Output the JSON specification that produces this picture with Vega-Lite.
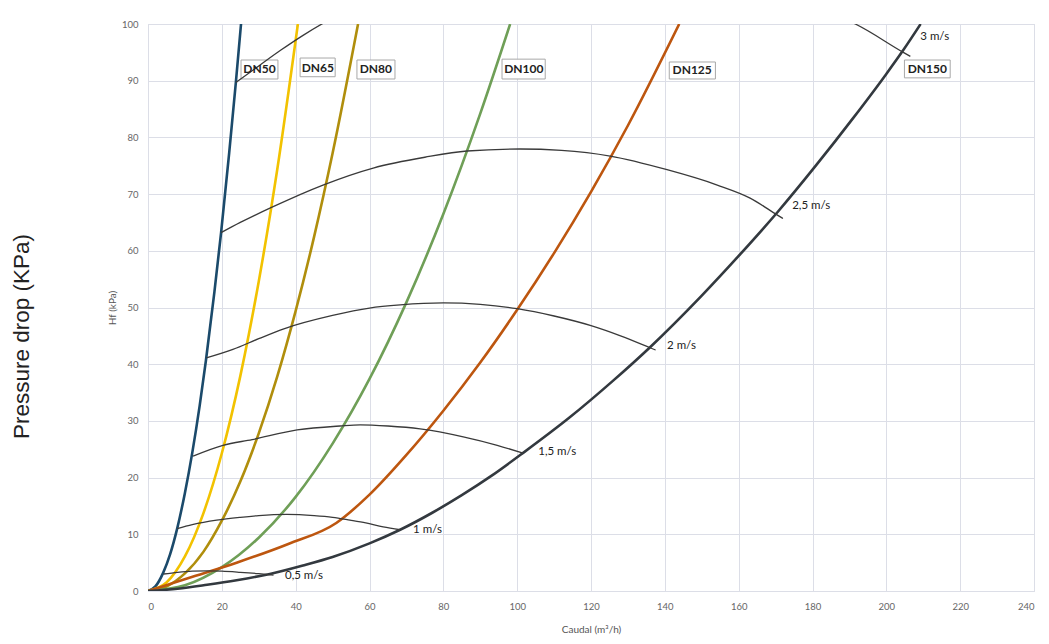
{
  "$schema": "https://vega.github.io/schema/vega-lite/v6.json",
  "width": 886,
  "height": 567,
  "autosize": "none",
  "padding": {"left": 148, "top": 24, "right": 15, "bottom": 53},
  "background": "white",
  "title": {"text": "Pressure drop (KPa)", "orient": "left", "anchor": "middle", "font": "Liberation Sans", "fontSize": 22.5, "fontWeight": "normal", "color": "#222222", "offset": 74, "dx": -29},
  "config": {
    "view": {"stroke": "#d4d6de", "strokeWidth": 1},
    "axis": {"domain": false, "ticks": false, "grid": true, "gridColor": "#dcdee7", "gridWidth": 1, "labelColor": "#666666", "labelFont": "Lato", "labelFontSize": 9.5, "titleFont": "Lato", "titleFontWeight": "normal", "titleColor": "#555555", "titleFontSize": 10},
    "axisX": {"tickCount": 12, "labelPadding": 10, "titlePadding": 14},
    "axisY": {"tickCount": 10, "labelPadding": 10, "titlePadding": 4}
  },
  "datasets": {
    "pipes": [
      {"p": "DN50", "q": 0, "h": 0}, {"p": "DN50", "q": 2, "h": 0.8}, {"p": "DN50", "q": 4.1, "h": 3.2}, {"p": "DN50", "q": 6, "h": 6.5}, {"p": "DN50", "q": 7.9, "h": 11.0}, {"p": "DN50", "q": 10, "h": 17.3}, {"p": "DN50", "q": 12, "h": 24.4}, {"p": "DN50", "q": 14, "h": 32.7}, {"p": "DN50", "q": 15.7, "h": 40.7}, {"p": "DN50", "q": 18, "h": 52.8}, {"p": "DN50", "q": 19.8, "h": 63.2}, {"p": "DN50", "q": 22, "h": 77.3}, {"p": "DN50", "q": 23.8, "h": 89.7}, {"p": "DN50", "q": 25.2, "h": 100},
      {"p": "DN65", "q": 0, "h": 0}, {"p": "DN65", "q": 5, "h": 1.5}, {"p": "DN65", "q": 10, "h": 6.1}, {"p": "DN65", "q": 15, "h": 13.7}, {"p": "DN65", "q": 20, "h": 24.3}, {"p": "DN65", "q": 25, "h": 37.9}, {"p": "DN65", "q": 30, "h": 54.6}, {"p": "DN65", "q": 35, "h": 74.3}, {"p": "DN65", "q": 40.6, "h": 100},
      {"p": "DN80", "q": 0, "h": 0}, {"p": "DN80", "q": 5, "h": 0.8}, {"p": "DN80", "q": 10, "h": 3.1}, {"p": "DN80", "q": 15, "h": 6.9}, {"p": "DN80", "q": 20, "h": 12.4}, {"p": "DN80", "q": 25, "h": 19.3}, {"p": "DN80", "q": 30, "h": 27.8}, {"p": "DN80", "q": 35, "h": 37.8}, {"p": "DN80", "q": 40, "h": 49.4}, {"p": "DN80", "q": 45, "h": 62.5}, {"p": "DN80", "q": 50, "h": 77.2}, {"p": "DN80", "q": 56.9, "h": 100},
      {"p": "DN100", "q": 0, "h": 0}, {"p": "DN100", "q": 10, "h": 1.0}, {"p": "DN100", "q": 20, "h": 4.2}, {"p": "DN100", "q": 30, "h": 9.4}, {"p": "DN100", "q": 40, "h": 16.6}, {"p": "DN100", "q": 50, "h": 26.0}, {"p": "DN100", "q": 60, "h": 37.4}, {"p": "DN100", "q": 70, "h": 50.9}, {"p": "DN100", "q": 80, "h": 66.5}, {"p": "DN100", "q": 90, "h": 84.2}, {"p": "DN100", "q": 98.1, "h": 100},
      {"p": "DN125", "q": 0, "h": 0}, {"p": "DN125", "q": 11, "h": 2.3}, {"p": "DN125", "q": 24, "h": 5.0}, {"p": "DN125", "q": 38, "h": 8.3}, {"p": "DN125", "q": 51, "h": 12.0}, {"p": "DN125", "q": 60, "h": 17.0}, {"p": "DN125", "q": 70, "h": 24.0}, {"p": "DN125", "q": 80, "h": 31.8}, {"p": "DN125", "q": 90, "h": 40.3}, {"p": "DN125", "q": 100, "h": 49.6}, {"p": "DN125", "q": 110, "h": 59.6}, {"p": "DN125", "q": 120, "h": 70.4}, {"p": "DN125", "q": 130, "h": 82.1}, {"p": "DN125", "q": 143.9, "h": 100},
      {"p": "DN150", "q": 0, "h": 0}, {"p": "DN150", "q": 8, "h": 0.4}, {"p": "DN150", "q": 16, "h": 1.1}, {"p": "DN150", "q": 24, "h": 1.9}, {"p": "DN150", "q": 33, "h": 3.0}, {"p": "DN150", "q": 42, "h": 4.5}, {"p": "DN150", "q": 50, "h": 6.0}, {"p": "DN150", "q": 60, "h": 8.4}, {"p": "DN150", "q": 68.3, "h": 10.8}, {"p": "DN150", "q": 77, "h": 13.8}, {"p": "DN150", "q": 85, "h": 16.9}, {"p": "DN150", "q": 93, "h": 20.3}, {"p": "DN150", "q": 101.9, "h": 24.5}, {"p": "DN150", "q": 114, "h": 30.5}, {"p": "DN150", "q": 126, "h": 37.1}, {"p": "DN150", "q": 136, "h": 43.0}, {"p": "DN150", "q": 150, "h": 52.1}, {"p": "DN150", "q": 160, "h": 59.1}, {"p": "DN150", "q": 170.5, "h": 66.8}, {"p": "DN150", "q": 181, "h": 75.1}, {"p": "DN150", "q": 191, "h": 83.4}, {"p": "DN150", "q": 200, "h": 91.2}, {"p": "DN150", "q": 204.6, "h": 95.4}, {"p": "DN150", "q": 209.3, "h": 100}
    ],
    "vel": [
      {"v": "0,5", "q": 4.2, "h": 3.0}, {"v": "0,5", "q": 8, "h": 3.3}, {"v": "0,5", "q": 12, "h": 3.5}, {"v": "0,5", "q": 16, "h": 3.55}, {"v": "0,5", "q": 20, "h": 3.5}, {"v": "0,5", "q": 25, "h": 3.3}, {"v": "0,5", "q": 30, "h": 3.05}, {"v": "0,5", "q": 34, "h": 2.8},
      {"v": "1", "q": 7.9, "h": 11.0}, {"v": "1", "q": 12, "h": 11.7}, {"v": "1", "q": 18.6, "h": 12.5}, {"v": "1", "q": 25, "h": 13.0}, {"v": "1", "q": 30, "h": 13.3}, {"v": "1", "q": 37.6, "h": 13.5}, {"v": "1", "q": 45, "h": 13.3}, {"v": "1", "q": 50, "h": 13.0}, {"v": "1", "q": 54.7, "h": 12.5}, {"v": "1", "q": 59, "h": 12.0}, {"v": "1", "q": 63.7, "h": 11.3}, {"v": "1", "q": 68.3, "h": 10.8},
      {"v": "1,5", "q": 12.2, "h": 23.8}, {"v": "1,5", "q": 20.3, "h": 25.7}, {"v": "1,5", "q": 28.2, "h": 26.7}, {"v": "1,5", "q": 40.4, "h": 28.4}, {"v": "1,5", "q": 52, "h": 29.1}, {"v": "1,5", "q": 57.5, "h": 29.3}, {"v": "1,5", "q": 65, "h": 29.1}, {"v": "1,5", "q": 73.7, "h": 28.6}, {"v": "1,5", "q": 85.4, "h": 27.2}, {"v": "1,5", "q": 94.6, "h": 25.7}, {"v": "1,5", "q": 101.6, "h": 24.3},
      {"v": "2", "q": 15.8, "h": 41.1}, {"v": "2", "q": 23, "h": 42.6}, {"v": "2", "q": 30, "h": 44.5}, {"v": "2", "q": 36.6, "h": 46.2}, {"v": "2", "q": 50, "h": 48.6}, {"v": "2", "q": 60, "h": 49.9}, {"v": "2", "q": 68.3, "h": 50.45}, {"v": "2", "q": 80, "h": 50.8}, {"v": "2", "q": 90, "h": 50.55}, {"v": "2", "q": 100, "h": 49.8}, {"v": "2", "q": 110, "h": 48.5}, {"v": "2", "q": 120, "h": 46.8}, {"v": "2", "q": 128, "h": 45.0}, {"v": "2", "q": 136, "h": 42.9}, {"v": "2", "q": 137.5, "h": 42.5},
      {"v": "2,5", "q": 19.8, "h": 63.2}, {"v": "2,5", "q": 25, "h": 65.0}, {"v": "2,5", "q": 33.6, "h": 67.7}, {"v": "2,5", "q": 47.4, "h": 71.6}, {"v": "2,5", "q": 61, "h": 74.6}, {"v": "2,5", "q": 75, "h": 76.5}, {"v": "2,5", "q": 86.4, "h": 77.6}, {"v": "2,5", "q": 100.8, "h": 77.95}, {"v": "2,5", "q": 112, "h": 77.7}, {"v": "2,5", "q": 125.2, "h": 76.7}, {"v": "2,5", "q": 140.6, "h": 74.3}, {"v": "2,5", "q": 154.2, "h": 71.6}, {"v": "2,5", "q": 163.1, "h": 69.3}, {"v": "2,5", "q": 170.5, "h": 66.3}, {"v": "2,5", "q": 172, "h": 65.7},
      {"v": "3", "q": 23.8, "h": 89.7}, {"v": "3", "q": 30, "h": 92.6}, {"v": "3", "q": 36, "h": 95.4}, {"v": "3", "q": 42, "h": 98.0}, {"v": "3", "q": 49.3, "h": 100.8}, {"v": "3", "q": 60, "h": 104}, {"v": "3", "q": 80, "h": 108}, {"v": "3", "q": 100, "h": 110}, {"v": "3", "q": 120, "h": 110.5}, {"v": "3", "q": 140, "h": 109.5}, {"v": "3", "q": 160, "h": 107}, {"v": "3", "q": 180, "h": 103}, {"v": "3", "q": 191.6, "h": 100}, {"v": "3", "q": 204.6, "h": 95}, {"v": "3", "q": 206.5, "h": 94.3}
    ],
    "pipeLabels": [
      {"label": "DN50", "q": 30.2, "h": 92.0, "q0": 25.2, "q1": 35.2, "h0": 90.3, "h1": 93.65},
      {"label": "DN65", "q": 46.0, "h": 92.3, "q0": 41.2, "q1": 50.7, "h0": 90.7, "h1": 94.0},
      {"label": "DN80", "q": 61.7, "h": 92.0, "q0": 56.6, "q1": 66.9, "h0": 90.3, "h1": 93.65},
      {"label": "DN100", "q": 101.8, "h": 92.0, "q0": 95.9, "q1": 107.6, "h0": 90.3, "h1": 93.8},
      {"label": "DN125", "q": 147.4, "h": 91.8, "q0": 141.2, "q1": 153.7, "h0": 90.3, "h1": 93.3},
      {"label": "DN150", "q": 211.1, "h": 92.1, "q0": 204.9, "q1": 217.3, "h0": 90.5, "h1": 93.65}
    ],
    "velLabels": [
      {"label": "0,5 m/s", "q": 37.1, "h": 2.65},
      {"label": "1 m/s", "q": 71.8, "h": 10.8},
      {"label": "1,5 m/s", "q": 105.7, "h": 24.5},
      {"label": "2 m/s", "q": 140.6, "h": 43.2},
      {"label": "2,5 m/s", "q": 174.5, "h": 67.9},
      {"label": "3 m/s", "q": 209.2, "h": 97.7}
    ]
  },
  "layer": [
    {
      "data": {"name": "pipeLabels"},
      "mark": {"type": "rect", "fill": "white", "stroke": "#a8a8a8", "strokeWidth": 1},
      "encoding": {
        "x": {"field": "q0", "type": "quantitative", "title": "Caudal (m³/h)", "scale": {"domain": [0, 240], "nice": false}},
        "x2": {"field": "q1"},
        "y": {"field": "h0", "type": "quantitative", "title": "Hf (kPa)", "scale": {"domain": [0, 100], "nice": false}},
        "y2": {"field": "h1"}
      }
    },
    {
      "data": {"name": "pipes"},
      "mark": {"type": "line", "interpolate": "monotone", "strokeWidth": 2.6, "clip": true},
      "encoding": {
        "x": {"field": "q", "type": "quantitative", "title": "Caudal (m³/h)", "scale": {"domain": [0, 240], "nice": false}},
        "y": {"field": "h", "type": "quantitative", "title": "Hf (kPa)", "scale": {"domain": [0, 100], "nice": false}},
        "color": {"field": "p", "type": "nominal", "legend": null, "scale": {"domain": ["DN50", "DN65", "DN80", "DN100", "DN125", "DN150"], "range": ["#1b4a6b", "#f2c200", "#b08e0c", "#6f9f57", "#bd560f", "#33393f"]}}
      }
    },
    {
      "data": {"name": "vel"},
      "mark": {"type": "line", "interpolate": "monotone", "strokeWidth": 1.3, "color": "#3a3a3a", "clip": true},
      "encoding": {
        "x": {"field": "q", "type": "quantitative", "title": "Caudal (m³/h)", "scale": {"domain": [0, 240], "nice": false}},
        "y": {"field": "h", "type": "quantitative", "title": "Hf (kPa)", "scale": {"domain": [0, 100], "nice": false}},
        "detail": {"field": "v", "type": "nominal"}
      }
    },
    {
      "data": {"name": "pipeLabels"},
      "mark": {"type": "text", "font": "Lato", "fontSize": 12, "fontWeight": "bold", "color": "#222222", "align": "center", "baseline": "middle"},
      "encoding": {
        "x": {"field": "q", "type": "quantitative", "title": "Caudal (m³/h)", "scale": {"domain": [0, 240], "nice": false}},
        "y": {"field": "h", "type": "quantitative", "title": "Hf (kPa)", "scale": {"domain": [0, 100], "nice": false}},
        "text": {"field": "label"}
      }
    },
    {
      "data": {"name": "velLabels"},
      "mark": {"type": "text", "font": "Lato", "fontSize": 11.5, "color": "#222222", "align": "left", "baseline": "middle"},
      "encoding": {
        "x": {"field": "q", "type": "quantitative", "title": "Caudal (m³/h)", "scale": {"domain": [0, 240], "nice": false}},
        "y": {"field": "h", "type": "quantitative", "title": "Hf (kPa)", "scale": {"domain": [0, 100], "nice": false}},
        "text": {"field": "label"}
      }
    }
  ]
}
